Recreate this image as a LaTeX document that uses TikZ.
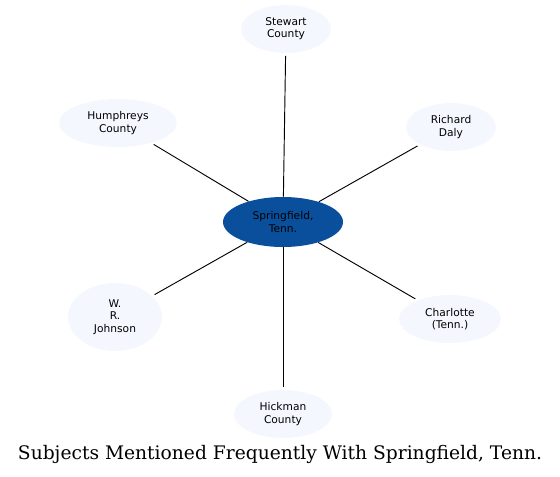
\documentclass[tikz,border=0pt]{standalone}
\usepackage{fontspec}
\setmainfont{DejaVu Sans}
\newfontfamily\titlefont{DejaVu Serif}
\usetikzlibrary{shapes.geometric}
\definecolor{hubblue}{HTML}{0A4F9C}
\definecolor{leafblue}{HTML}{F4F8FE}
\tikzset{
  leaf/.style={ellipse, fill=leafblue, inner sep=0pt, align=center, font=\fontsize{8}{9.2}\selectfont},
  hub/.style={ellipse, fill=hubblue, inner sep=0pt, align=center, font=\fontsize{8}{9.2}\selectfont},
  link/.style={draw=black, line width=0.7pt, shorten >=2pt}
}
\begin{document}
\begin{tikzpicture}[x=0.75pt,y=-0.75pt]
\useasboundingbox (0,0) rectangle (560,476);
\node[hub, minimum width=90pt, minimum height=37.5pt] (c) at (283,222) {Springfield,\\Tenn.};
\node[leaf, minimum width=67.5pt, minimum height=36pt] (stew) at (286,29) {Stewart\\County};
\node[leaf, minimum width=88.5pt, minimum height=36pt] (hump) at (118,123) {Humphreys\\County};
\node[leaf, minimum width=67.5pt, minimum height=36pt] (rich) at (451,127) {Richard\\Daly};
\node[leaf, minimum width=70.5pt, minimum height=51pt] (john) at (115,317) {W.\\R.\\Johnson};
\node[leaf, minimum width=76.5pt, minimum height=36pt] (char) at (450,319) {Charlotte\\(Tenn.)};
\node[leaf, minimum width=73.5pt, minimum height=36pt] (hick) at (283,414) {Hickman\\County};
\draw[link] (c) -- (stew);
\draw[link] (c) -- (hump);
\draw[link] (c) -- (rich);
\draw[link] (c) -- (john);
\draw[link] (c) -- (char);
\draw[link] (c) -- (hick);
\node[font=\titlefont\fontsize{14}{16}\selectfont, inner sep=0pt] (title) at (280,454) {Subjects Mentioned Frequently With Springfield, Tenn.};
\end{tikzpicture}
\end{document}
